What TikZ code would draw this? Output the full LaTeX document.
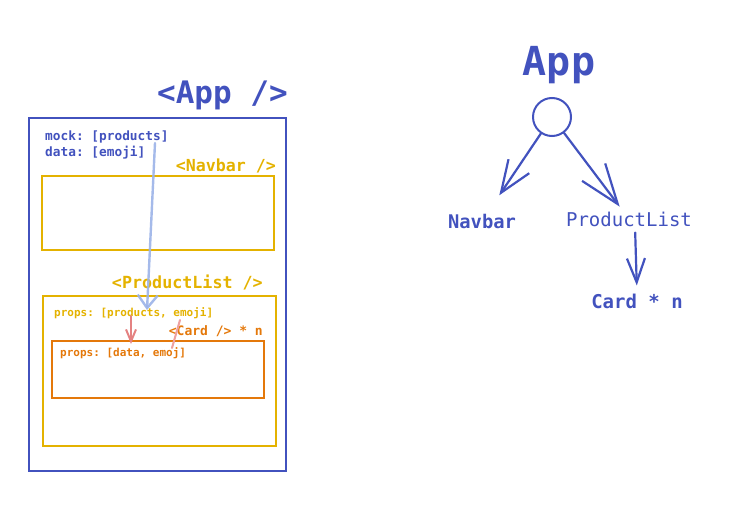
\documentclass[tikz,border=0pt]{standalone}
\usepackage{fontspec}
\setmonofont{DejaVu Sans Mono}
\usetikzlibrary{arrows.meta}
\definecolor{cblue}{RGB}{66,82,190}
\definecolor{cyel}{RGB}{228,178,0}
\definecolor{corg}{RGB}{228,120,10}
\definecolor{clblue}{RGB}{155,178,232}
\definecolor{cred}{RGB}{228,130,130}
\definecolor{cpink}{RGB}{238,160,160}
\tikzset{
  lbl/.style={inner sep=0pt, font=\ttfamily\bfseries},
  box/.style={line width=2pt},
  barb/.style={line width=2.2pt, cblue, line cap=round},
}
\begin{document}
\begin{tikzpicture}[x=1pt,y=-1pt]
\useasboundingbox (0,0) rectangle (736,511);
% ----- left component diagram
\node[lbl, cblue, font=\fontsize{31}{31}\ttfamily\bfseries, anchor=east] (apptag) at (288,95) {<App />};
\draw[box, cblue] (29,118) rectangle (286,471);
\node[lbl, cblue, font=\fontsize{12.8}{16}\ttfamily\bfseries, anchor=west] (mock) at (45,137) {mock: [products]};
\node[lbl, cblue, font=\fontsize{12.8}{16}\ttfamily\bfseries, anchor=west] (data) at (45,153) {data: [emoji]};
\node[lbl, cyel, font=\fontsize{16.6}{18}\ttfamily\bfseries, anchor=east] (navtag) at (276,166) {<Navbar />};
\draw[box, cyel] (42,176) rectangle (274,250);
\node[lbl, cyel, font=\fontsize{16.7}{18}\ttfamily\bfseries, anchor=east] (pltag) at (263,282) {<ProductList />};
\draw[box, cyel] (43,296) rectangle (276,446);
\node[lbl, cyel, font=\fontsize{11}{13}\ttfamily\bfseries, anchor=west] (plprops) at (54,313) {props: [products, emoji]};
\node[lbl, corg, font=\fontsize{13}{15}\ttfamily\bfseries, anchor=east] (cardtag) at (263,331) {<Card /> * n};
\draw[box, corg] (52,341) rectangle (264,398);
\node[lbl, corg, font=\fontsize{11}{13}\ttfamily\bfseries, anchor=west] (cardprops) at (60,353) {props: [data, emoj]};
% light arrows
\coordinate (bs) at (155,143);
\coordinate (be) at (147,310);
\draw[clblue, line width=2.4pt, opacity=0.9, line cap=round, -{Straight Barb[length=13pt,width=20pt,line width=2.4pt]}] (bs) -- (be);
\coordinate (rs) at (131,316);
\coordinate (re) at (131,344);
\draw[cred, line width=2pt, line cap=round, -{Straight Barb[length=12pt,width=10pt,line width=2pt]}] (rs) -- (re);
\coordinate (ps) at (180,320);
\coordinate (pe) at (172,348);
\draw[cpink, line width=2pt, line cap=round] (ps) -- (pe);
% ----- right tree
\node[lbl, cblue, font=\fontsize{40}{40}\ttfamily\bfseries] (apptitle) at (559,65) {App};
\node[circle, draw=cblue, line width=2pt, minimum size=38pt, inner sep=0pt] (appc) at (552,117) {};
\node[lbl, cblue, font=\fontsize{18.8}{20}\ttfamily\bfseries] (navbar) at (482,221) {Navbar};
\node[lbl, cblue, font=\fontsize{19}{20}\ttfamily] (plist) at (629,219) {ProductList};
\node[lbl, cblue, font=\fontsize{19}{20}\ttfamily\bfseries] (card) at (637,301) {Card * n};
\draw[barb, -{Straight Barb[length=32pt,width=25pt,line width=2.2pt]}, shorten >=22pt] (appc) -- (navbar);
\draw[barb, -{Straight Barb[length=40pt,width=29pt,line width=2.2pt]}, shorten >=6pt] (appc) -- (plist);
\draw[barb, -{Straight Barb[length=24pt,width=18pt,line width=2.2pt]}, shorten <=6pt, shorten >=8pt] (plist.south -| 635,0) -- (card.north -| 637,0);
\end{tikzpicture}
\end{document}
